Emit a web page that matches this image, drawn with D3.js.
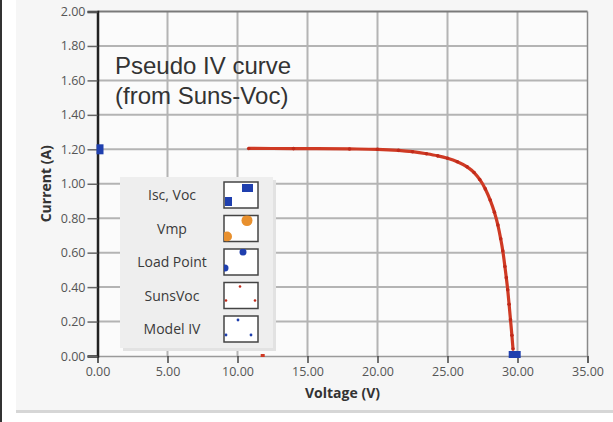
<!DOCTYPE html>
<html>
<head>
<meta charset="utf-8">
<script src="https://cdn.jsdelivr.net/npm/d3@7"></script>
<style>
  html, body { margin: 0; padding: 0; background: #ffffff; }
  svg { display: block; }
  text { font-family: "Open Sans", "Noto Sans", sans-serif; }
  text.note { font-family: "Liberation Sans", Arial, sans-serif; }
</style>
</head>
<body>
<svg id="chart" width="613" height="422"></svg>
<script>
// Axis ticks
const xTicks = [0, 5, 10, 15, 20, 25, 30, 35];
const yTicks = [0, 0.2, 0.4, 0.6, 0.8, 1.0, 1.2, 1.4, 1.6, 1.8, 2.0];

// Suns-Voc pseudo IV curve: voltage (V) and current (A)
const sunsVoltage = [10.8, 14.0, 18.0, 20.0, 21.5, 22.5, 23.5, 24.3, 25.0, 25.7, 26.4, 26.9, 27.3, 27.7, 28.05, 28.35, 28.6, 28.8, 28.95, 29.1, 29.2, 29.3, 29.4, 29.5, 29.6, 29.68];
const sunsCurrent = [1.205, 1.204, 1.202, 1.200, 1.194, 1.186, 1.174, 1.162, 1.148, 1.128, 1.098, 1.065, 1.025, 0.970, 0.905, 0.835, 0.760, 0.680, 0.610, 0.520, 0.455, 0.385, 0.300, 0.210, 0.120, 0.040];

// Stray Suns-Voc point near the x axis
const strayVoltage = [11.8];
const strayCurrent = [0.0];

// Short-circuit and open-circuit markers
const iscVocVoltage = [0.0, 29.8];
const iscVocCurrent = [1.20, 0.0];

// Legend entries
const legendLabels = ["Isc, Voc", "Vmp", "Load Point", "SunsVoc", "Model IV"];

const svg = d3.select("#chart");
const W = 613, H = 422;

// Panel background and frame
svg.append("rect").attr("x", 0).attr("y", 0).attr("width", W).attr("height", H).attr("fill", "#ffffff");
svg.append("rect").attr("x", 16).attr("y", 0).attr("width", W - 16).attr("height", 411).attr("fill", "#f6f6f6");
svg.append("rect").attr("x", 16).attr("y", 410).attr("width", W - 16).attr("height", 3).attr("fill", "#d6d6d6");
svg.append("rect").attr("x", 0).attr("y", 0).attr("width", 2).attr("height", H).attr("fill", "#333333");

const plot = { left: 97.5, right: 587.5, top: 11.5, bottom: 356 };
const x = d3.scaleLinear().domain([0, 35]).range([plot.left, plot.right]);
const y = d3.scaleLinear().domain([0, 2]).range([plot.bottom, plot.top]);

// Plot area
svg.append("rect")
  .attr("x", plot.left).attr("y", plot.top)
  .attr("width", plot.right - plot.left).attr("height", plot.bottom - plot.top)
  .attr("fill", "#fbfbfb");

// Gridlines
const grid = svg.append("g");
grid.selectAll("line.gx").data(xTicks.filter(d => d > 0 && d < 35)).enter().append("line")
  .attr("x1", d => x(d)).attr("x2", d => x(d))
  .attr("y1", plot.top).attr("y2", plot.bottom)
  .attr("stroke", "#b4b4b4").attr("stroke-width", 2);
grid.selectAll("line.gy").data(yTicks.filter(d => d > 0 && d < 2)).enter().append("line")
  .attr("x1", plot.left).attr("x2", plot.right)
  .attr("y1", d => y(d)).attr("y2", d => y(d))
  .attr("stroke", "#b4b4b4").attr("stroke-width", 2);

// Frame lines
svg.append("line").attr("x1", plot.left).attr("x2", plot.right).attr("y1", plot.top).attr("y2", plot.top)
  .attr("stroke", "#7a7a7a").attr("stroke-width", 2);
svg.append("line").attr("x1", plot.right).attr("x2", plot.right).attr("y1", plot.top).attr("y2", plot.bottom)
  .attr("stroke", "#8a8a8a").attr("stroke-width", 1.5);

// Axes
const fmt = d3.format(".2f");
const xAxis = svg.append("g").attr("transform", `translate(0,${plot.bottom})`)
  .call(d3.axisBottom(x).tickValues(xTicks).tickFormat(fmt).tickSize(7).tickPadding(4));
xAxis.select(".domain").attr("stroke", "#9a9a9a").attr("stroke-width", 1.5);
xAxis.selectAll(".tick line").attr("stroke", "#444").attr("stroke-width", 1.5);
xAxis.selectAll(".tick text").attr("fill", "#555").attr("font-size", 12.5);

const yAxis = svg.append("g").attr("transform", `translate(${plot.left},0)`)
  .call(d3.axisLeft(y).tickValues(yTicks).tickFormat(fmt).tickSize(10).tickPadding(2));
yAxis.select(".domain").attr("stroke", "#222").attr("stroke-width", 2.5);
yAxis.selectAll(".tick line").attr("stroke", "#666").attr("stroke-width", 1.5);
yAxis.selectAll(".tick text").attr("fill", "#555").attr("font-size", 12.5);

// Axis titles
svg.append("text").attr("x", (plot.left + plot.right) / 2).attr("y", 398)
  .attr("text-anchor", "middle").attr("font-size", 14).attr("font-weight", "bold").attr("fill", "#333")
  .text("Voltage (V)");
svg.append("text").attr("transform", `translate(51,${y(1.0)}) rotate(-90)`)
  .attr("text-anchor", "middle").attr("font-size", 14).attr("font-weight", "bold").attr("fill", "#333")
  .text("Current (A)");

// Suns-Voc curve
const sunsData = sunsVoltage.map((v, i) => [v, sunsCurrent[i]]);
const line = d3.line().x(d => x(d[0])).y(d => y(d[1])).curve(d3.curveMonotoneX);
svg.append("path").datum(sunsData)
  .attr("d", line)
  .attr("fill", "none").attr("stroke", "#cf3a24").attr("stroke-width", 3.2);
svg.selectAll("circle.suns").data(sunsData).enter().append("circle")
  .attr("cx", d => x(d[0])).attr("cy", d => y(d[1])).attr("r", 1.8).attr("fill", "#c02a1a");

svg.selectAll("rect.stray").data(strayVoltage).enter().append("rect")
  .attr("x", (d) => x(d) - 2).attr("y", (d, i) => y(strayCurrent[i]) - 2)
  .attr("width", 4).attr("height", 3).attr("fill", "#cf3a24");

// Isc / Voc markers
svg.selectAll("rect.isc").data(iscVocVoltage).enter().append("rect")
  .attr("x", (d, i) => i === 0 ? x(d) - 1 : x(d) - 6)
  .attr("y", (d, i) => y(iscVocCurrent[i]) - 5)
  .attr("width", (d, i) => i === 0 ? 7 : 12)
  .attr("height", (d, i) => i === 0 ? 10 : 7)
  .attr("fill", "#1f3fae");

// Annotation
const note = svg.append("text").attr("class", "note")
  .attr("font-size", 24).attr("fill", "#333");
note.append("tspan").attr("x", 115).attr("y", 74).text("Pseudo IV curve");
note.append("tspan").attr("x", 115).attr("y", 104).text("(from Suns-Voc)");

// Legend
const lg = svg.append("g");
const lgX = 120, lgY = 177, lgW = 153, lgH = 171;
lg.append("rect").attr("x", lgX + 3).attr("y", lgY + 3).attr("width", lgW).attr("height", lgH).attr("fill", "#e2e2e2");
lg.append("rect").attr("x", lgX).attr("y", lgY).attr("width", lgW).attr("height", lgH).attr("fill", "#eeeeee");

const rowStep = 33.5, row0 = 195;
const sw = { x: 224, w: 34, h: 26 };
legendLabels.forEach((label, i) => {
  const cy = row0 + i * rowStep;
  lg.append("text").attr("x", 172).attr("y", cy + 5).attr("text-anchor", "middle")
    .attr("font-size", 14).attr("fill", "#3a3a3a").text(label);
  const g = lg.append("g").attr("transform", `translate(${sw.x},${cy - 13})`);
  g.append("rect").attr("width", sw.w).attr("height", sw.h).attr("fill", "#ffffff")
    .attr("stroke", "#444").attr("stroke-width", 1.5);
  const clipId = "clip" + i;
  g.append("clipPath").attr("id", clipId).append("rect").attr("width", sw.w).attr("height", sw.h);
  const c = g.append("g").attr("clip-path", `url(#${clipId})`);
  if (i === 0) {
    c.append("rect").attr("x", 1).attr("y", 15).attr("width", 7).attr("height", 9).attr("fill", "#1f3fae");
    c.append("rect").attr("x", 18).attr("y", 2).attr("width", 11).attr("height", 8).attr("fill", "#1f3fae");
  } else if (i === 1) {
    c.append("circle").attr("cx", 3).attr("cy", 21).attr("r", 5).attr("fill", "#e8902e");
    c.append("circle").attr("cx", 23).attr("cy", 5).attr("r", 5.5).attr("fill", "#e8902e");
  } else if (i === 2) {
    c.append("circle").attr("cx", 1).attr("cy", 19).attr("r", 3.5).attr("fill", "#1f3fae");
    c.append("circle").attr("cx", 19).attr("cy", 3).attr("r", 3.5).attr("fill", "#1f3fae");
  } else if (i === 3) {
    [[16, 4], [2, 18], [31, 18]].forEach(p => c.append("circle").attr("cx", p[0]).attr("cy", p[1]).attr("r", 1.3).attr("fill", "#c02a1a"));
  } else {
    [[14, 4], [2, 19], [27, 19]].forEach(p => c.append("circle").attr("cx", p[0]).attr("cy", p[1]).attr("r", 1.4).attr("fill", "#1f3fae"));
  }
});
</script>
</body>
</html>
